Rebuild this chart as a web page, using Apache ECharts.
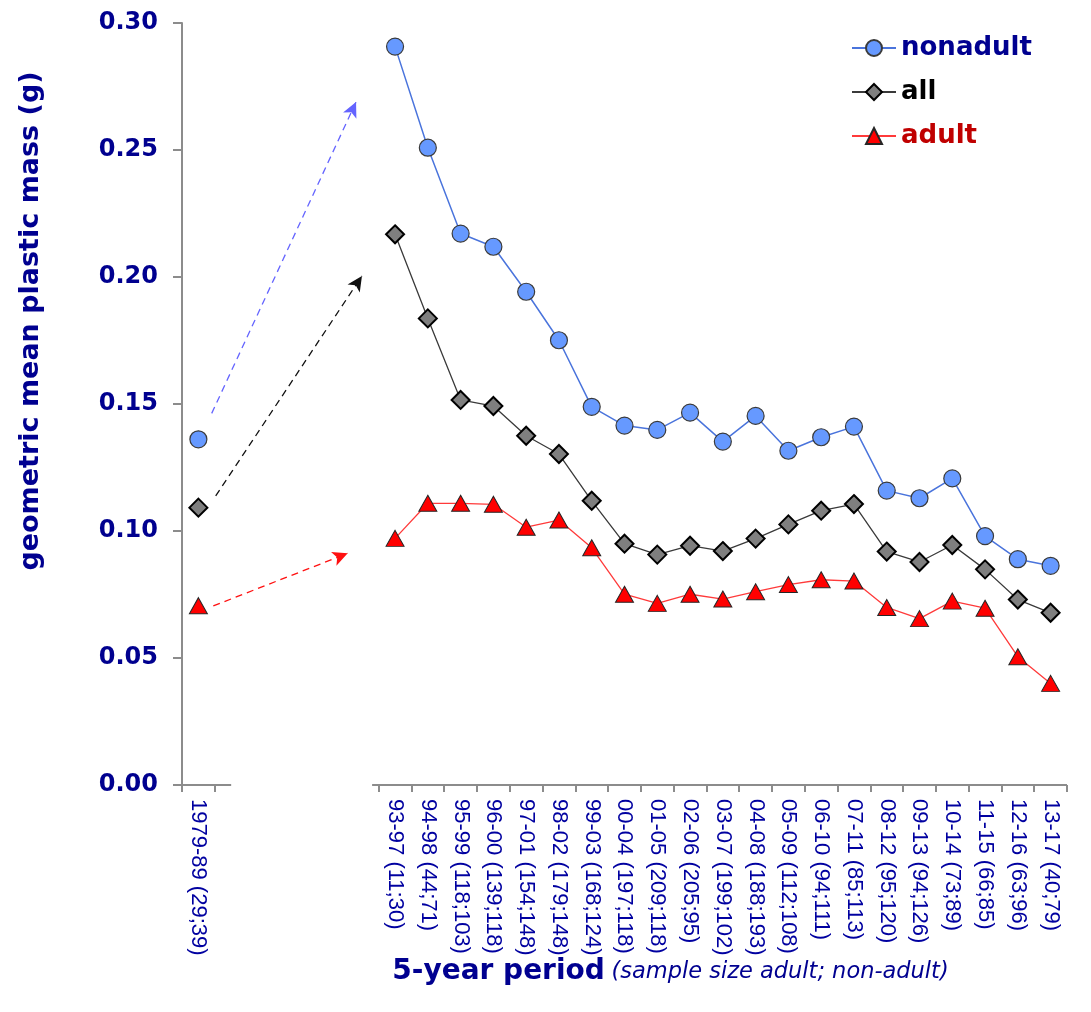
<!DOCTYPE html>
<html>
<head>
<meta charset="utf-8">
<script src="https://cdn.jsdelivr.net/npm/echarts@6/dist/echarts.min.js"></script>
<style>
  html, body { margin: 0; padding: 0; background: #fff; }
  #chart { width: 1091px; height: 1012px; }
</style>
</head>
<body>
<div id="chart"></div>
<script>
// Five-year periods with sample sizes (adult; non-adult)
const periods = [
  '1979-89 (29;39)',
  '93-97 (11;30)', '94-98 (44;71)', '95-99 (118;103)', '96-00 (139;118)',
  '97-01 (154;148)', '98-02 (179;148)', '99-03 (168;124)', '00-04 (197;118)',
  '01-05 (209;118)', '02-06 (205;95)', '03-07 (199;102)', '04-08 (188;193)',
  '05-09 (112;108)', '06-10 (94;111)', '07-11 (85;113)', '08-12 (95;120)',
  '09-13 (94;126)', '10-14 (73;89)', '11-15 (66;85)', '12-16 (63;96)', '13-17 (40;79)'
];

// Geometric mean plastic mass (g) per period
const nonadult = [0.1361, 0.2907, 0.2509, 0.2171, 0.2119, 0.1942, 0.1751, 0.1489, 0.1415, 0.1398,
  0.1466, 0.1352, 0.1453, 0.1316, 0.1369, 0.1411, 0.1159, 0.1129, 0.1207, 0.0980, 0.0889, 0.0863];
const allBirds = [0.1092, 0.2168, 0.1837, 0.1516, 0.1492, 0.1375, 0.1303, 0.1119, 0.0950, 0.0907,
  0.0942, 0.0921, 0.0970, 0.1026, 0.1080, 0.1106, 0.0919, 0.0878, 0.0945, 0.0849, 0.0730, 0.0678];
const adult = [0.0706, 0.0971, 0.1109, 0.1109, 0.1105, 0.1015, 0.1043, 0.0934, 0.0751, 0.0715,
  0.0751, 0.0732, 0.0761, 0.0789, 0.0808, 0.0803, 0.0699, 0.0655, 0.0724, 0.0696, 0.0505, 0.0400];

// Value axis ticks
const yTicks = [0, 0.05, 0.10, 0.15, 0.20, 0.25, 0.30];

// Empty slots separating the 1979-89 baseline from the rolling periods
const gapSlots = 5;

// Dashed arrows linking the baseline to the first rolling period
// (x in category slots from the left edge, y in grams)
const arrows = [
  { color: '#6464ff', from: [0.906, 0.1463], to: [5.31, 0.2689] },
  { color: '#111111', from: [1.028, 0.1138], to: [5.49, 0.2004] },
  { color: '#ff1010', from: [0.955, 0.0705], to: [5.055, 0.0912] }
];

const gapNames = Array.from({ length: gapSlots }, (_, i) => '_' + i);
const categories = [periods[0], ...gapNames, ...periods.slice(1)];
const withGap = arr => [arr[0], ...gapNames.map(() => null), ...arr.slice(1)];
const slotCount = categories.length;

const navy = '#00008f';
const axisGray = '#8c8c8c';

const chart = echarts.init(document.getElementById('chart'), null, { renderer: 'canvas' });

const option = {
  animation: false,
  backgroundColor: '#ffffff',
  grid: { left: 182, right: 24, top: 23, bottom: 227, containLabel: false },
  legend: {
    orient: 'vertical',
    left: 846,
    top: 30,
    itemWidth: 44,
    itemHeight: 20,
    itemGap: 18,
    textStyle: { fontFamily: 'DejaVu Sans', fontWeight: 'bold', fontSize: 26 },
    data: [
      { name: 'nonadult', textStyle: { color: '#000090' } },
      { name: 'all', textStyle: { color: '#000000' } },
      { name: 'adult', textStyle: { color: '#c00000' } }
    ]
  },
  xAxis: [
    {
      type: 'category',
      data: categories,
      boundaryGap: true,
      axisLine: { show: false },
      axisTick: {
        show: true,
        length: 7,
        lineStyle: { color: axisGray, width: 2 },
        interval: (index, value) => !String(value).startsWith('_') || index === 1
      },
      axisLabel: {
        interval: 0,
        rotate: -90,
        margin: 14,
        color: '#0000a0',
        fontFamily: 'Liberation Sans, Arial',
        fontSize: 22,
        formatter: v => (String(v).startsWith('_') ? '' : v)
      },
      name: '{a|5-year period}  {b|(sample size adult; non-adult)}',
      nameLocation: 'middle',
      nameGap: 173,
      nameMoveOverlap: false,
      nameTextStyle: {
        padding: [0, 0, 0, 92],
        rich: {
          a: { fontFamily: 'DejaVu Sans', fontWeight: 'bold', fontSize: 28, color: '#000090' },
          b: { fontFamily: 'DejaVu Sans', fontStyle: 'italic', fontSize: 22.5, color: '#000090' }
        }
      }
    },
    {
      // Continuous helper axis over the same span, used for annotations
      type: 'value',
      min: 0,
      max: slotCount,
      show: false
    }
  ],
  yAxis: {
    type: 'value',
    min: yTicks[0],
    max: yTicks[yTicks.length - 1],
    interval: yTicks[1] - yTicks[0],
    splitLine: { show: false },
    axisLine: { show: true, lineStyle: { color: axisGray, width: 2 } },
    axisTick: { show: true, inside: false, length: 9, lineStyle: { color: axisGray, width: 2 } },
    axisLabel: {
      margin: 24,
      color: navy,
      fontFamily: 'DejaVu Sans',
      fontWeight: 'bold',
      fontSize: 24,
      formatter: v => v.toFixed(2)
    },
    name: 'geometric mean plastic mass (g)',
    nameLocation: 'middle',
    nameGap: 138,
    nameTextStyle: {
      color: '#000090',
      fontFamily: 'DejaVu Sans',
      fontWeight: 'bold',
      fontSize: 27,
      padding: [0, 0, 0, 166]
    }
  },
  series: [
    {
      name: 'adult',
      type: 'line',
      data: withGap(adult),
      connectNulls: false,
      symbol: 'triangle',
      symbolSize: [18, 16],
      lineStyle: { color: '#ff3a3a', width: 1.3 },
      itemStyle: { color: '#ff0000', borderColor: '#262626', borderWidth: 1 },
      z: 3
    },
    {
      name: 'all',
      type: 'line',
      data: withGap(allBirds),
      connectNulls: false,
      symbol: 'diamond',
      symbolSize: 18,
      lineStyle: { color: '#3a3a3a', width: 1.3 },
      itemStyle: { color: '#7f7f7f', borderColor: '#000000', borderWidth: 2 },
      z: 4
    },
    {
      name: 'nonadult',
      type: 'line',
      data: withGap(nonadult),
      connectNulls: false,
      symbol: 'circle',
      symbolSize: 17,
      lineStyle: { color: '#4a74dc', width: 1.5 },
      itemStyle: { color: '#6699ff', borderColor: '#3a3a3a', borderWidth: 1.2 },
      z: 5
    },
    {
      name: 'arrows',
      type: 'line',
      xAxisIndex: 1,
      data: [],
      silent: true,
      markLine: {
        silent: true,
        symbol: ['none', 'arrow'],
        symbolSize: [11, 15],
        label: { show: false },
        lineStyle: { type: [7, 5], width: 1.3 },
        data: arrows.map(a => [
          { coord: a.from, lineStyle: { color: a.color }, itemStyle: { color: a.color } },
          { coord: a.to, lineStyle: { color: a.color }, itemStyle: { color: a.color } }
        ])
      }
    }
  ]
};

chart.setOption(option);

// Broken category axis line: a short stub under the baseline and the main run
const px = v => chart.convertToPixel({ xAxisIndex: 1 }, v);
const y0 = chart.convertToPixel({ yAxisIndex: 0 }, 0);
chart.setOption({
  graphic: [
    {
      type: 'line', silent: true,
      shape: { x1: px(0) - 1, y1: y0, x2: px(1.5), y2: y0 },
      style: { stroke: axisGray, lineWidth: 2 }
    },
    {
      type: 'line', silent: true,
      shape: { x1: px(1 + gapSlots - 0.2), y1: y0, x2: px(slotCount), y2: y0 },
      style: { stroke: axisGray, lineWidth: 2 }
    }
  ]
});
</script>
</body>
</html>
